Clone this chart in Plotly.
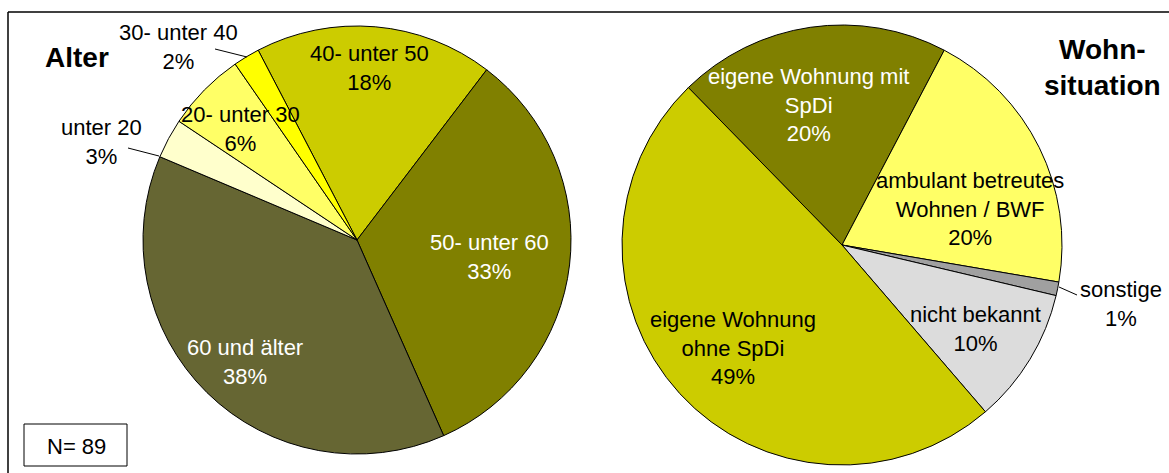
import plotly.graph_objects as go

W, H = 1169, 473

# Age distribution (percent)
alter_labels = ["40- unter 50", "50- unter 60", "60 und älter", "unter 20", "20- unter 30", "30- unter 40"]
alter_values = [18, 33, 38, 3, 6, 2]
alter_colors = ["#CCCC00", "#808000", "#666633", "#FFFFCC", "#FFFF66", "#FFFF00"]

# Living situation (percent)
wohn_labels = ["eigene Wohnung mit<br>SpDi", "ambulant betreutes<br>Wohnen / BWF", "sonstige",
               "nicht bekannt", "eigene Wohnung<br>ohne SpDi"]
wohn_values = [20, 20, 1, 10, 49]
wohn_colors = ["#808000", "#FFFF66", "#A0A0A0", "#DCDCDC", "#CCCC00"]

n_total = 89


def px(x):
    return x / W


def py(y):
    return 1 - y / H


def domain(cx, cy, r):
    return dict(x=[px(cx - r), px(cx + r)], y=[py(cy + r), py(cy - r)])


fig = go.Figure()
fig.add_trace(go.Pie(
    labels=alter_labels, values=alter_values, sort=False, direction="clockwise",
    rotation=-27.5, textinfo="none", hoverinfo="label+percent",
    marker=dict(colors=alter_colors, line=dict(color="black", width=1)),
    domain=domain(357, 240, 214), showlegend=False,
))
fig.add_trace(go.Pie(
    labels=wohn_labels, values=wohn_values, sort=False, direction="clockwise",
    rotation=-44.3, textinfo="none", hoverinfo="label+percent",
    marker=dict(colors=wohn_colors, line=dict(color="black", width=1)),
    domain=domain(842, 245, 220), showlegend=False,
))

FONT = "Liberation Sans, Arial, sans-serif"
annotations = []

# label placement (pixel centre) and text colour for each slice
alter_pos = [(370, 68, "black"), (490, 257, "white"), (245, 362, "white"),
             (101, 142, "black"), (240, 129, "black"), (178, 47, "black")]
wohn_pos = [(808, 105, "white"), (970, 209, "black"), (1121, 304, "black"),
            (975, 329, "black"), (733, 348, "black")]

for lab, val, (x, y, c) in zip(alter_labels, alter_values, alter_pos):
    annotations.append(dict(x=px(x), y=py(y), xref="paper", yref="paper", showarrow=False,
                            text=f"{lab}<br>{val}%", xanchor="center", yanchor="middle",
                            font=dict(family=FONT, size=22, color=c)))
for lab, val, (x, y, c) in zip(wohn_labels, wohn_values, wohn_pos):
    annotations.append(dict(x=px(x), y=py(y), xref="paper", yref="paper", showarrow=False,
                            text=f"{lab}<br>{val}%", xanchor="center", yanchor="middle",
                            font=dict(family=FONT, size=22, color=c)))

# panel titles
annotations.append(dict(x=px(77), y=py(57), xref="paper", yref="paper", showarrow=False,
                        text="<b>Alter</b>", xanchor="center", yanchor="middle",
                        font=dict(family=FONT, size=28, color="black")))
annotations.append(dict(x=px(1102), y=py(68), xref="paper", yref="paper", showarrow=False,
                        text="<b>Wohn-<br>situation</b>", xanchor="center", yanchor="middle",
                        font=dict(family=FONT, size=28, color="black")))
# sample size
annotations.append(dict(x=px(76), y=py(446), xref="paper", yref="paper", showarrow=False,
                        text=f"N= {n_total}", xanchor="center", yanchor="middle",
                        font=dict(family=FONT, size=22, color="black")))

shapes = [
    # outer frame (top and left edges)
    dict(type="line", xref="paper", yref="paper", x0=px(8), y0=py(12), x1=px(1169), y1=py(12),
         line=dict(color="black", width=1.5)),
    dict(type="line", xref="paper", yref="paper", x0=px(8), y0=py(12), x1=px(8), y1=py(473),
         line=dict(color="black", width=1.5)),
    # N box
    dict(type="rect", xref="paper", yref="paper", x0=px(24), y0=py(466), x1=px(127), y1=py(424),
         line=dict(color="black", width=1)),
    # leader lines
    dict(type="line", xref="paper", yref="paper", x0=px(215), y0=py(49), x1=px(247), y1=py(57),
         line=dict(color="black", width=1)),
    dict(type="line", xref="paper", yref="paper", x0=px(128), y0=py(148), x1=px(159), y1=py(156),
         line=dict(color="black", width=1)),
    dict(type="line", xref="paper", yref="paper", x0=px(1059), y0=py(287), x1=px(1077), y1=py(295),
         line=dict(color="black", width=1)),
]

fig.update_layout(
    width=W, height=H, margin=dict(l=0, r=0, t=0, b=0),
    paper_bgcolor="white", plot_bgcolor="white",
    annotations=annotations, shapes=shapes,
)

fig.write_html("out.html")
